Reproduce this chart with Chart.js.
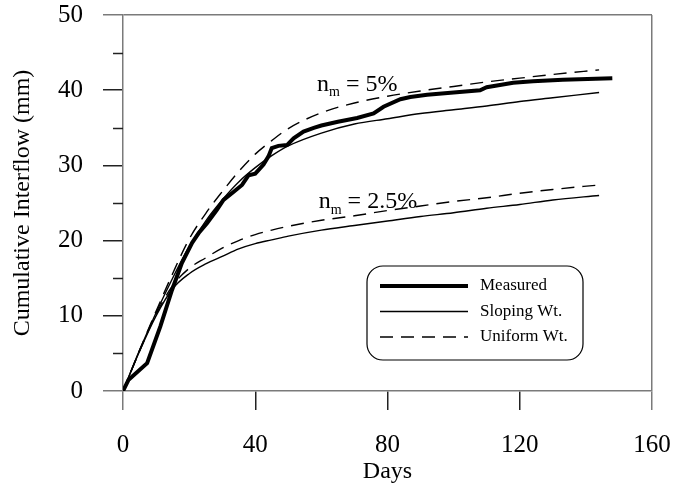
<!DOCTYPE html>
<html>
<head>
<meta charset="utf-8">
<script src="https://cdn.jsdelivr.net/npm/chart.js@4.4.1/dist/chart.umd.min.js"></script>
<style>
  html, body { margin: 0; padding: 0; background: #fff; }
  #wrap { width: 673px; height: 490px; }
</style>
</head>
<body>
<div id="wrap"><canvas id="chart" width="673" height="490"></canvas></div>
<script>
// ── Data ─────────────────────────────────────────────────────────────────────
const measDays = [0, 1.7, 7.3, 11.3, 14.8, 17.8, 20.9, 22.9, 25.4, 28.4,
                  30.4, 33.5, 36, 38, 40, 42.5, 44, 45, 47, 49.6,
                  51.6, 54.6, 57.7, 60, 65, 70.8, 75.8, 78.8, 83.9, 86.9,
                  92, 100, 108, 110, 114, 118, 124, 133, 148];
const measured = [0, 1.5, 3.7, 8.6, 13.4, 17.0, 19.7, 21.0, 22.3, 24.1,
                  25.4, 26.5, 27.4, 28.7, 28.9, 30.1, 31.2, 32.3, 32.6, 32.7,
                  33.6, 34.5, 35.0, 35.3, 35.8, 36.3, 36.9, 37.8, 38.8, 39.1,
                  39.4, 39.7, 40.0, 40.4, 40.7, 41.0, 41.2, 41.4, 41.6];

const modelDays = [0, 5, 10, 15, 20, 25, 30, 35, 40, 45, 50, 60, 70, 80, 90, 100, 110, 120, 130, 144];
const sloping5  = [0, 5.4, 10.4, 15.0, 19.2, 22.6, 25.4, 27.8, 29.7, 31.3, 32.6, 34.3, 35.5, 36.2, 36.9, 37.4, 37.9, 38.5, 39.0, 39.7];
const uniform5  = [0, 5.4, 10.6, 15.6, 20.2, 23.6, 26.5, 29.2, 31.5, 33.3, 34.9, 37.0, 38.3, 39.2, 39.9, 40.5, 41.1, 41.6, 42.1, 42.7];
const sloping25 = [0, 5.3, 10.0, 13.6, 15.6, 16.9, 17.9, 18.9, 19.6, 20.1, 20.6, 21.4, 22.0, 22.6, 23.2, 23.7, 24.3, 24.8, 25.4, 26.0];
const uniform25 = [0, 5.3, 10.2, 14.0, 16.3, 17.7, 19.0, 20.0, 20.8, 21.4, 21.9, 22.7, 23.3, 24.0, 24.6, 25.2, 25.7, 26.3, 26.8, 27.4];

const legendLabels = ['Measured', 'Sloping Wt.', 'Uniform Wt.'];
const curveNotes   = ['5%', '2.5%'];
const yMinorTicks  = [5, 15, 25, 35, 45];

// ── Styles ───────────────────────────────────────────────────────────────────
const SERIF = '"Liberation Serif", "Times New Roman", serif';
const AXIS_GRAY = '#7a7a7a';
const DASH = [13, 8];

const pairs = (xs, ys) => xs.map((x, i) => ({ x, y: ys[i] }));

function lineSet(label, data, width, dash) {
  return {
    label,
    data,
    borderColor: '#000',
    backgroundColor: '#000',
    borderWidth: width,
    borderDash: dash || [],
    pointRadius: 0,
    fill: false,
    tension: 0,
    cubicInterpolationMode: width < 3 ? 'monotone' : 'default',
  };
}

// ── Plugins ──────────────────────────────────────────────────────────────────
const minorTicks = {
  id: 'minorTicks',
  afterDraw(chart) {
    const { ctx, scales: { y }, chartArea } = chart;
    ctx.save();
    ctx.strokeStyle = '#222';
    ctx.lineWidth = 1.5;
    yMinorTicks.forEach(v => {
      const py = Math.round(y.getPixelForValue(v)) + 0.5;
      ctx.beginPath();
      ctx.moveTo(chartArea.left - 10, py);
      ctx.lineTo(chartArea.left, py);
      ctx.stroke();
    });
    ctx.restore();
  }
};

const curveLabels = {
  id: 'curveLabels',
  afterDatasetsDraw(chart) {
    const { ctx, scales: { x, y } } = chart;
    const anchors = [[58.7, 39.9], [59.2, 24.3]];
    ctx.save();
    ctx.fillStyle = '#000';
    ctx.textBaseline = 'alphabetic';
    ctx.textAlign = 'left';
    curveNotes.forEach((txt, i) => {
      let px = x.getPixelForValue(anchors[i][0]);
      const py = y.getPixelForValue(anchors[i][1]);
      ctx.font = '24px ' + SERIF;
      ctx.fillText('n', px, py);
      px += ctx.measureText('n').width;
      ctx.font = '14px ' + SERIF;
      ctx.fillText('m', px, py + 5.5);
      px += ctx.measureText('m').width;
      ctx.font = '24px ' + SERIF;
      ctx.fillText(' = ' + txt, px, py);
    });
    ctx.restore();
  }
};

const boxLegend = {
  id: 'boxLegend',
  afterDraw(chart) {
    const { ctx } = chart;
    const sets = chart.data.datasets.slice(0, 3);
    const bx = 367, by = 266, bw = 216, bh = 94;
    ctx.save();
    ctx.fillStyle = '#fff';
    ctx.strokeStyle = '#000';
    ctx.lineWidth = 1.2;
    ctx.beginPath();
    ctx.roundRect(bx, by, bw, bh, 16);
    ctx.fill();
    ctx.stroke();
    ctx.font = '17px ' + SERIF;
    ctx.textBaseline = 'middle';
    ctx.fillStyle = '#000';
    legendLabels.forEach((lab, i) => {
      const ds = sets[i];
      const ly = by + 20 + i * 25.5;
      ctx.strokeStyle = '#000';
      ctx.lineWidth = ds.borderWidth;
      ctx.setLineDash(ds.borderDash || []);
      ctx.beginPath();
      ctx.moveTo(bx + 13, ly);
      ctx.lineTo(bx + 101, ly);
      ctx.stroke();
      ctx.setLineDash([]);
      ctx.fillText(lab, bx + 113, ly);
    });
    ctx.restore();
  }
};

// ── Chart ────────────────────────────────────────────────────────────────────
new Chart(document.getElementById('chart'), {
  type: 'line',
  data: {
    datasets: [
      lineSet('Measured', pairs(measDays, measured), 4),
      lineSet('Sloping Wt. 5%', pairs(modelDays, sloping5), 1.4),
      lineSet('Uniform Wt. 5%', pairs(modelDays, uniform5), 1.4, DASH),
      lineSet('Sloping Wt. 2.5%', pairs(modelDays, sloping25), 1.4),
      lineSet('Uniform Wt. 2.5%', pairs(modelDays, uniform25), 1.4, DASH),
    ],
  },
  options: {
    responsive: false,
    animation: false,
    devicePixelRatio: 1,
    layout: { padding: { top: 15, right: 21, left: 0, bottom: 0 } },
    plugins: {
      legend: { display: false },
      tooltip: { enabled: false },
    },
    scales: {
      x: {
        type: 'linear',
        min: 0,
        max: 160,
        afterFit: s => { s.height = 99; s.paddingLeft = 0; s.paddingRight = 0; },
        ticks: { stepSize: 40, padding: 20, color: '#000', font: { family: SERIF, size: 25 } },
        grid: {
          drawOnChartArea: true,
          color: c => (c.tick && c.tick.value === 160 ? AXIS_GRAY : 'transparent'),
          lineWidth: 1.5,
          tickLength: 19,
          tickWidth: 1.5,
          tickColor: c => (c.tick && (c.tick.value === 0 || c.tick.value === 160) ? AXIS_GRAY : '#222'),
        },
        border: { color: AXIS_GRAY, width: 1.5 },
        title: {
          display: true,
          text: 'Days',
          color: '#000',
          font: { family: SERIF, size: 24 },
          padding: { top: 0, bottom: 4 },
        },
      },
      y: {
        min: 0,
        max: 50,
        afterFit: s => { s.width = 123; s.paddingTop = 0; s.paddingBottom = 0; },
        ticks: { stepSize: 10, padding: 20, color: '#000', font: { family: SERIF, size: 25 } },
        grid: {
          drawOnChartArea: true,
          color: c => (c.tick && c.tick.value === 50 ? AXIS_GRAY : 'transparent'),
          lineWidth: 1.5,
          tickLength: 20,
          tickWidth: 1.5,
          tickColor: c => (c.tick && (c.tick.value === 0 || c.tick.value === 50) ? AXIS_GRAY : '#222'),
        },
        border: { color: AXIS_GRAY, width: 1.5 },
        title: {
          display: true,
          text: 'Cumulative Interflow (mm)',
          color: '#000',
          font: { family: SERIF, size: 24 },
          padding: { top: 8.5, bottom: 0 },
        },
      },
    },
  },
  plugins: [minorTicks, curveLabels, boxLegend],
});
</script>
</body>
</html>
